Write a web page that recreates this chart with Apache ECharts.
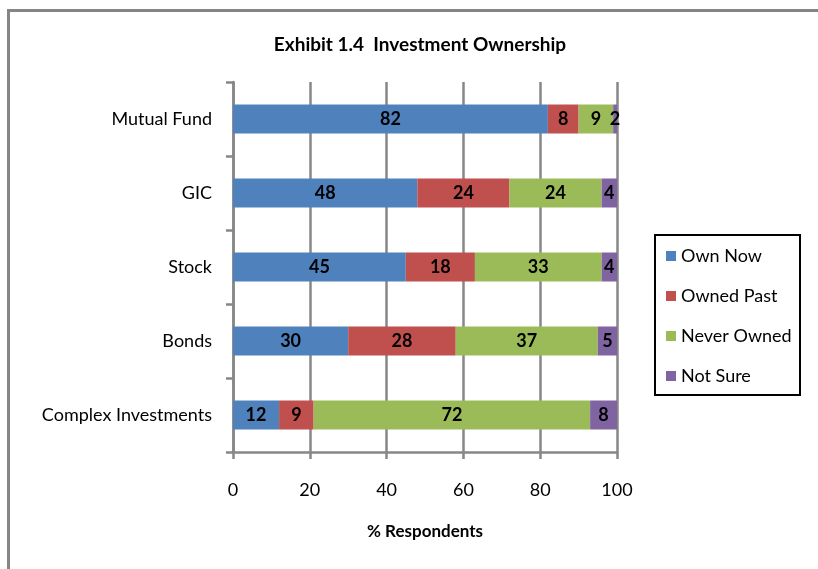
<!DOCTYPE html>
<html>
<head>
<meta charset="utf-8">
<title>Investment Ownership</title>
<script src="https://cdn.jsdelivr.net/npm/echarts@6/dist/echarts.min.js"></script>
<style>
  html, body { margin: 0; padding: 0; background: #ffffff; }
  #chart { width: 818px; height: 569px; }
</style>
</head>
<body>
<div id="chart"></div>
<script>
// Investment types, listed bottom to top as they appear on the category axis
const categories = ['Complex Investments', 'Bonds', 'Stock', 'GIC', 'Mutual Fund'];

// Share of respondents (%) for each ownership status
const ownNow      = [12, 30, 45, 48, 82];
const ownedPast   = [9, 28, 18, 24, 8];
const neverOwned  = [72, 37, 33, 24, 9];
const notSure     = [8, 5, 4, 4, 2];

const seriesNames = ['Own Now', 'Owned Past', 'Never Owned', 'Not Sure'];
const seriesColors = ['#4F81BD', '#C0504D', '#9BBB59', '#8064A2'];
const seriesValues = [ownNow, ownedPast, neverOwned, notSure];

const xTicks = [0, 20, 40, 60, 80, 100];

const font = 'Lato, "Open Sans", sans-serif';
const gridGray = '#878787';

const chart = echarts.init(document.getElementById('chart'), null, { renderer: 'canvas' });

const series = seriesNames.map((name, i) => ({
  name: name,
  type: 'bar',
  stack: 'total',
  barWidth: 29,
  clip: true,
  data: seriesValues[i],
  itemStyle: { color: seriesColors[i] },
  label: {
    show: true,
    position: 'inside',
    color: '#000',
    fontFamily: font,
    fontWeight: 'bold',
    fontSize: 18
  },
  emphasis: { disabled: true }
}));

chart.setOption({
  animation: false,
  backgroundColor: '#ffffff',
  title: {
    text: 'Exhibit 1.4  Investment Ownership',
    left: 415,
    top: 30,
    textAlign: 'center',
    textStyle: { fontFamily: font, fontWeight: 'bold', fontSize: 19, color: '#000' }
  },
  grid: { left: 233, right: 201, top: 82, bottom: 117, containLabel: false },
  legend: {
    orient: 'vertical',
    left: 666,
    top: 246,
    icon: 'rect',
    itemWidth: 10,
    itemHeight: 10,
    itemGap: 20,
    itemStyle: { borderWidth: 0 },
    padding: 0,
    data: seriesNames,
    textStyle: { fontFamily: font, fontSize: 18, color: '#000', lineHeight: 20 },
    selectedMode: false
  },
  xAxis: {
    type: 'value',
    min: 0,
    max: 100,
    interval: 20,
    name: '% Respondents',
    nameLocation: 'middle',
    nameGap: 71,
    nameTextStyle: { fontFamily: font, fontWeight: 'bold', fontSize: 17, color: '#000' },
    axisLine: { show: true, lineStyle: { color: gridGray, width: 2.5 } },
    axisTick: { show: true, length: 7, lineStyle: { color: gridGray, width: 2.5 } },
    axisLabel: {
      margin: 29,
      fontFamily: font,
      fontSize: 18,
      color: '#000',
      formatter: v => (xTicks.indexOf(v) >= 0 ? String(v) : '')
    },
    splitLine: { show: true, lineStyle: { color: gridGray, width: 2.5 } }
  },
  yAxis: {
    type: 'category',
    data: categories,
    axisLine: { show: true, lineStyle: { color: gridGray, width: 2.5 } },
    axisTick: { show: true, length: 7, lineStyle: { color: gridGray, width: 2.5 } },
    axisLabel: { margin: 21, fontFamily: font, fontSize: 18, color: '#000' },
    splitLine: { show: false }
  },
  graphic: [
    // Outer chart frame (top and left edges)
    {
      type: 'polyline',
      shape: { points: [[8.5, 569], [8.5, 10.5], [818, 10.5]] },
      style: { stroke: '#858585', lineWidth: 3, fill: null },
      silent: true
    },
    // Legend frame
    {
      type: 'rect',
      shape: { x: 655, y: 235, width: 145, height: 160 },
      style: { stroke: '#000', lineWidth: 2, fill: null },
      silent: true,
      z: 10
    }
  ],
  series: series
});
</script>
</body>
</html>
